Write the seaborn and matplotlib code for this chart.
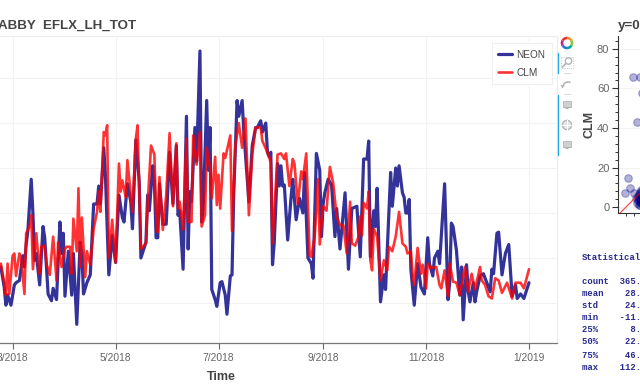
import numpy as np
import pandas as pd
import matplotlib
matplotlib.use("Agg")
import matplotlib.pyplot as plt
from matplotlib.patches import Wedge, Rectangle, Circle, Polygon, Arc
import seaborn as sns

# 观测值 NEON（一年中的第几天 / W m-2）
neon_days = [52, 54, 55, 56, 58, 60, 61, 63, 65, 66, 67, 68, 70, 71, 72, 73, 75, 77, 78, 80, 82, 83, 85, 87, 88, 89, 90, 92, 94, 95, 97, 99, 100, 101, 103,
             105, 107, 109, 110, 111, 113, 114, 116, 118, 120, 122, 124, 125, 127, 129, 130, 132, 134, 135, 138, 139, 140, 142, 143, 144, 145, 146, 148, 150, 152, 154, 156, 157,
             158, 160, 162, 163, 164, 165, 167, 168, 170, 171, 172, 174, 175, 176, 177, 179, 180, 182, 183, 185, 186, 188, 189, 190, 192, 193, 195, 196, 199, 201, 203, 204, 206, 207, 209, 210, 211,
             212, 213, 214, 216, 217, 218, 219, 220, 222, 224, 225, 227, 229, 231, 232, 234, 236, 237, 239, 241, 242, 243, 244, 246, 248, 250, 251, 253, 256, 258, 260, 263,
             265, 267, 269, 270, 271, 273, 274, 275, 277, 279, 280, 283, 284, 286, 287, 288, 290, 291, 292, 293, 294, 295, 297, 299, 301, 303, 305, 306, 308, 309, 311, 312, 315, 317,
             318, 319, 320, 322, 324, 325, 326, 328, 329, 330, 332, 333, 334, 336, 338, 340, 342, 343, 344, 346, 347, 349, 351, 353, 355, 357, 358, 360, 362, 365]
neon_vals = [16, 7, -1, 3.5, -1, 8, 9, 10, 21, 16, 26, 32, 55, 40, 19, 22, 8, 34, 29, 4, 1, 6.5, 1.5, 36, 22, 31, 3, 23, 3.5, 22, -9.5, 27, 22, 4, 9,
             12.5, 44, 44, 52, 44, 69, 56, 12.5, 30, 18, 48, 38, 36, 53, 45, 33, 72.5, 54, 20, 27, 48, 41, 61, 54, 29, 29, 53, 35, 35, 67, 44, 70, 39,
             41, 15, 83, 24, 49.5, 45, 78, 63, 112, 36, 44, 90, 59, 78, 6, 1.5, -1.5, 9, 9.5, 3.5, -5, 12, 12.5, 48, 90, 83, 90, 76, 45, 70, 78, 78, 81, 76, 80, 67, 65,
             67, 17, 26.5, 62, 52, 61, 52, 52.5, 28, 47, 55, 37, 46.5, 40, 58, 20, 17.5, 11, 66.5, 59, 29.5, 44, 49, 55, 52.5, 29.5, 42, 24, 49, 15, 42, 43,
             20.5, 64, 64, 72, 20.5, 41, 34, 51, 0.5, 12.5, 6, 58, 43, 60, 52, 61, 49, 47, 40, 40, 46, 15, -1, 17.5, 7, 4, 29, 17.5, 12, 20, 23, 17.5, 53, 1.5,
             9, 35.5, 34, 23.5, 3.5, 16, -7.5, 17, 5, 0.5, 9, 0.5, 5, 12, 13, 9, 5, 15, 13, 31, 31.5, 12.5, 22, 26, 3, 8, 2, 4, 2, 9]

# 模拟值 CLM
clm_days = [52, 54, 55, 56, 57, 59, 60, 61, 63, 64, 66, 67, 69, 70, 71, 73, 75, 76, 78, 79, 81, 83, 85, 86, 88, 90, 91, 93, 94, 95, 97, 98, 99, 100, 102, 103,
            105, 107, 109, 110, 111, 113, 114, 115, 116, 118, 120, 122, 123, 124, 126, 127, 129, 130, 132, 133, 135, 138, 139, 141, 143, 144, 145, 146, 148, 150, 152, 154, 156, 157,
            158, 160, 162, 163, 165, 166, 168, 170, 171, 173, 174, 176, 177, 179, 180, 181, 182, 184, 185, 188, 189, 191, 193, 195, 197, 199, 201, 203, 204, 206, 207, 210, 211,
            212, 213, 216, 218, 220, 221, 223, 225, 226, 228, 230, 231, 233, 235, 236, 238, 240, 241, 243, 245, 247, 249, 251, 253, 255, 257, 259, 260, 262, 264,
            265, 266, 267, 269, 270, 271, 272, 273, 275, 277, 279, 281, 282, 284, 286, 288, 290, 292, 293, 295, 296, 297, 299, 301, 302, 304, 305, 307, 310, 312, 313, 315, 317,
            318, 320, 322, 324, 327, 329, 331, 333, 336, 337, 339, 341, 343, 345, 347, 349, 352, 355, 357, 360, 362, 365]
clm_vals = [17.5, 9, 3.5, 17.5, 4, 21, 22, 12, 22, 20, 4, 31, 34, 39, 15, 31, 13, 25, 25.5, 17.5, 12.5, 29.5, 10, 27, 16, 24, 25, 25, 13, 37.5, 23, 51, 16, 38, 11.5, 23,
            17, 33, 40.5, 49.5, 40.5, 76, 74.5, 79, 20, 37, 18, 62, 49.5, 54.5, 47, 63.5, 48, 40.5, 73, 79, 24, 26.5, 43.5, 70, 66, 39, 31.5, 56, 32.5, 48, 75.5, 43, 71, 42,
            45, 32.5, 73, 36, 36, 74.5, 61.5, 76, 34, 39, 69, 60, 46.5, 65, 43.5, 57, 42, 66.5, 64.5, 74.5, 32, 70, 80, 69, 82, 39, 66, 78, 78, 78, 72, 67, 65,
            62, 26.5, 66, 66.5, 64, 66.5, 52, 64, 62, 44, 58.5, 55, 66.5, 21, 20.5, 29.5, 55, 26, 43, 41, 60.5, 53, 38.5, 34.5, 34.5, 22, 45, 26.5, 25.5, 29.5,
            38.5, 30, 44.5, 42, 49.5, 19, 14.5, 33, 29.5, 10, 19, 14.5, 25, 23, 29.5, 40.5, 26.5, 25, 22, 23, 13, 8, 24.5, 13, 17, 6.5, 17.5, 15.5, 16, 8, 6.5, 14.5, 3,
            17.5, 9.5, 9, 3.5, 16, 5, 13, 6, 16, 10, 8, 3, 2, 11, 10, 4.5, 9, 2, 9, 9, 6.5, 15]

# 散点图 (NEON, CLM)，只有左边一小段在画面内
scatter_x = [3.6, 7.1, 8.1, 5.6, 1.0, 2.0, -0.5, 4.1, 6.1, 7.1, 7.6, 5.6, 7.1, 6.1, 8.4, 8.0, 6.8, 5.2, 8.6,
             6.5, 7.4, 8.2, 6.9, 7.8, 8.8, 6.2, 7.2, 8.0, 9.0, 6.6, 7.6, 8.5]
scatter_y = [65.8, 65.8, 57.7, 43.0, 14.7, 9.6, 7.0, 7.0, 5.6, 3.5, 8.6, 2.0, 1.0, 4.0, 6.0, 1.5, 6.8, 4.5, 3.0,
             5.0, 4.2, 3.2, 2.4, 6.2, 5.2, 3.0, 7.4, 8.0, 1.8, 1.0, 2.8, 7.0]

x_tick_dates = ["2018-03-01", "2018-05-01", "2018-07-01", "2018-09-01", "2018-11-01", "2019-01-01"]
x_tick_labels = ["3/2018", "5/2018", "7/2018", "9/2018", "11/2018", "1/2019"]
y_grid = [0, 20, 40, 60, 80, 100]

stat_names = ["count", "mean", "std", "min", "25%", "50%", "75%", "max"]
stat_vals = ["365.", "28.", "24.", "-11.", "8.", "22.", "46.", "112."]

sns.set_theme(style="whitegrid", rc={"grid.color": "#f3f3f3", "grid.linewidth": 0.8})
plt.rcParams["font.family"] = ["Liberation Sans", "DejaVu Sans"]

W, H = 640, 384
start = pd.Timestamp("2018-01-01")
neon = pd.DataFrame({"date": start + pd.to_timedelta(neon_days, unit="D"), "val": neon_vals})
clm = pd.DataFrame({"date": start + pd.to_timedelta(clm_days, unit="D"), "val": clm_vals})

fig = plt.figure(figsize=(6.4, 3.84), dpi=100, facecolor="white")

# 主图
ax = fig.add_axes([0, (H - 343) / H, 557 / W, 307 / H])
sns.lineplot(data=neon, x="date", y="val", color="navy", alpha=0.8, linewidth=2.3,
             estimator=None, ax=ax, label="NEON")
sns.lineplot(data=clm, x="date", y="val", color="red", alpha=0.8, linewidth=1.9,
             estimator=None, ax=ax, label="CLM")
ax.set_xlim(start + pd.Timedelta(days=51.5), start + pd.Timedelta(days=381.6))
ax.set_ylim(-17.8, 118.7)
ax.set_xticks(pd.to_datetime(x_tick_dates))
ax.set_xticklabels(x_tick_labels, fontsize=7.4, color="#666666")
ax.set_yticks(y_grid)
ax.set_yticklabels([])
ax.tick_params(axis="x", length=4, width=0.8, color="#666666", pad=3.5, bottom=True)
ax.tick_params(axis="y", length=0)
ax.set_xlabel("Time", fontsize=9, fontweight="bold", color="#444444", labelpad=2)
ax.xaxis.set_label_coords((221) / 557, -0.09)
ax.set_ylabel("")
for s in ["left"]:
    ax.spines[s].set_visible(False)
for s in ["top", "right"]:
    ax.spines[s].set_color("#ececec")
    ax.spines[s].set_linewidth(0.8)
ax.spines["bottom"].set_color("#777777")
ax.spines["bottom"].set_linewidth(0.9)

leg = ax.legend(loc="upper right", bbox_to_anchor=(552 / 557, (343 - 43) / 307), fontsize=7.2,
                frameon=True, fancybox=False, framealpha=1, edgecolor="#eeeeee",
                handlelength=1.35, handletextpad=0.5, labelspacing=0.8,
                borderpad=0.65, borderaxespad=0)
leg.get_frame().set_linewidth(0.7)
for t in leg.get_texts():
    t.set_color("#444444")

# 右边的散点图，被画面右边切掉
ax2 = fig.add_axes([617.7 / W, (H - 213) / H, 300 / W, 177 / H])
sns.scatterplot(x=scatter_x, y=scatter_y, color="navy", alpha=0.3, s=30, edgecolor="navy",
                linewidth=0.8, ax=ax2, clip_on=True)
ax2.plot([-10, 100], [-10, 100], color="red", alpha=0.7, linewidth=0.9)
ax2.set_xlim(-4.2, 148)
ax2.set_ylim(-3, 86.5)
ax2.set_yticks([0, 20, 40, 60, 80])
ax2.set_yticks(np.arange(0, 85, 4), minor=True)
ax2.set_xticks(np.arange(0, 140, 4), minor=True)
ax2.set_xticks([20, 40, 60, 80, 100, 120, 140])
ax2.grid(True, which="major", color="#f3f3f3")
ax2.tick_params(axis="y", which="major", length=4, width=0.8, labelsize=8, labelcolor="#666666", color="#333333", pad=2, left=True)
ax2.tick_params(axis="y", which="minor", length=2, width=0.7, color="#333333", left=True)
ax2.tick_params(axis="x", which="minor", length=2, width=0.7, color="#333333", bottom=True)
ax2.set_ylabel("CLM", fontsize=9, fontweight="bold", color="#444444", labelpad=1)
ax2.spines["top"].set_visible(False)
ax2.spines["right"].set_visible(False)
ax2.spines["left"].set_color("#333333")
ax2.spines["bottom"].set_color("#333333")
ax2.spines["left"].set_linewidth(0.8)
ax2.spines["bottom"].set_linewidth(0.8)

# 覆盖层：标题、工具栏、统计文字（坐标就是像素）
ov = fig.add_axes([0, 0, 1, 1], zorder=5)
ov.set_xlim(0, W)
ov.set_ylim(H, 0)
ov.axis("off")
ov.patch.set_alpha(0)
ov.text(-2, 26, "ABBY  EFLX_LH_TOT", fontsize=9.6, fontweight="bold", color="#444444", va="center")
ov.text(618, 26, "y=0", fontsize=9.6, fontweight="bold", color="#444444", va="center")

logo_colors = ["#f7941d", "#8dc63f", "#00a99d", "#2e75d6", "#c2278f", "#ed3237"]
for i, c in enumerate(logo_colors):
    ov.add_patch(Wedge((567, 43), 6.3, i * 60 - 90, i * 60 - 30, width=2.6, color=c, lw=0))

ov.plot([557.5, 557.5], [53, 73], color="#26aae1", lw=1)
ov.plot([557.5, 557.5], [95, 155], color="#26aae1", lw=1)
ov.plot([564, 570], [73, 73], color="#dddddd", lw=0.8)
ov.plot([564, 570], [94, 94], color="#dddddd", lw=0.8)

grey = "#b5b5b5"
ov.add_patch(Rectangle((561, 57), 12, 11, fill=False, ec=grey, lw=0.6, ls=":"))
ov.add_patch(Circle((568.5, 61), 3.2, fill=False, ec=grey, lw=1))
ov.plot([566, 562.5], [63.5, 67], color=grey, lw=1.2)
ov.add_patch(Arc((568, 87), 10, 10, theta1=180, theta2=300, ec=grey, lw=1.2))
ov.add_patch(Polygon([(560.5, 85), (564.5, 85), (562.5, 88.5)], color=grey, lw=0))
for cy in [105, 145]:
    ov.add_patch(Rectangle((563, cy - 4.5), 8, 6.5, fc="#d0d0d0", ec=grey, lw=0.6))
    ov.add_patch(Polygon([(563, cy + 2), (571, cy + 2), (567, cy + 4.5)], fc=grey, lw=0))
ov.add_patch(Circle((567, 125), 4.6, fc="#e6e6e6", ec=grey, lw=1))
ov.plot([567, 567], [120, 130], color="white", lw=0.8)
ov.plot([562, 572], [125, 125], color="white", lw=0.8)

mono = dict(family="Liberation Mono", fontsize=6.4, fontweight="bold", color="#2a2a90", va="center")
ov.text(582, 258, "Statistical", **mono)
for name, val, py in zip(stat_names, stat_vals, [282, 294, 306, 318, 330, 342, 355, 367]):
    ov.text(582, py, f"{name:<5}{val:>6}", **mono)

fig.savefig("out.png", dpi=100)
